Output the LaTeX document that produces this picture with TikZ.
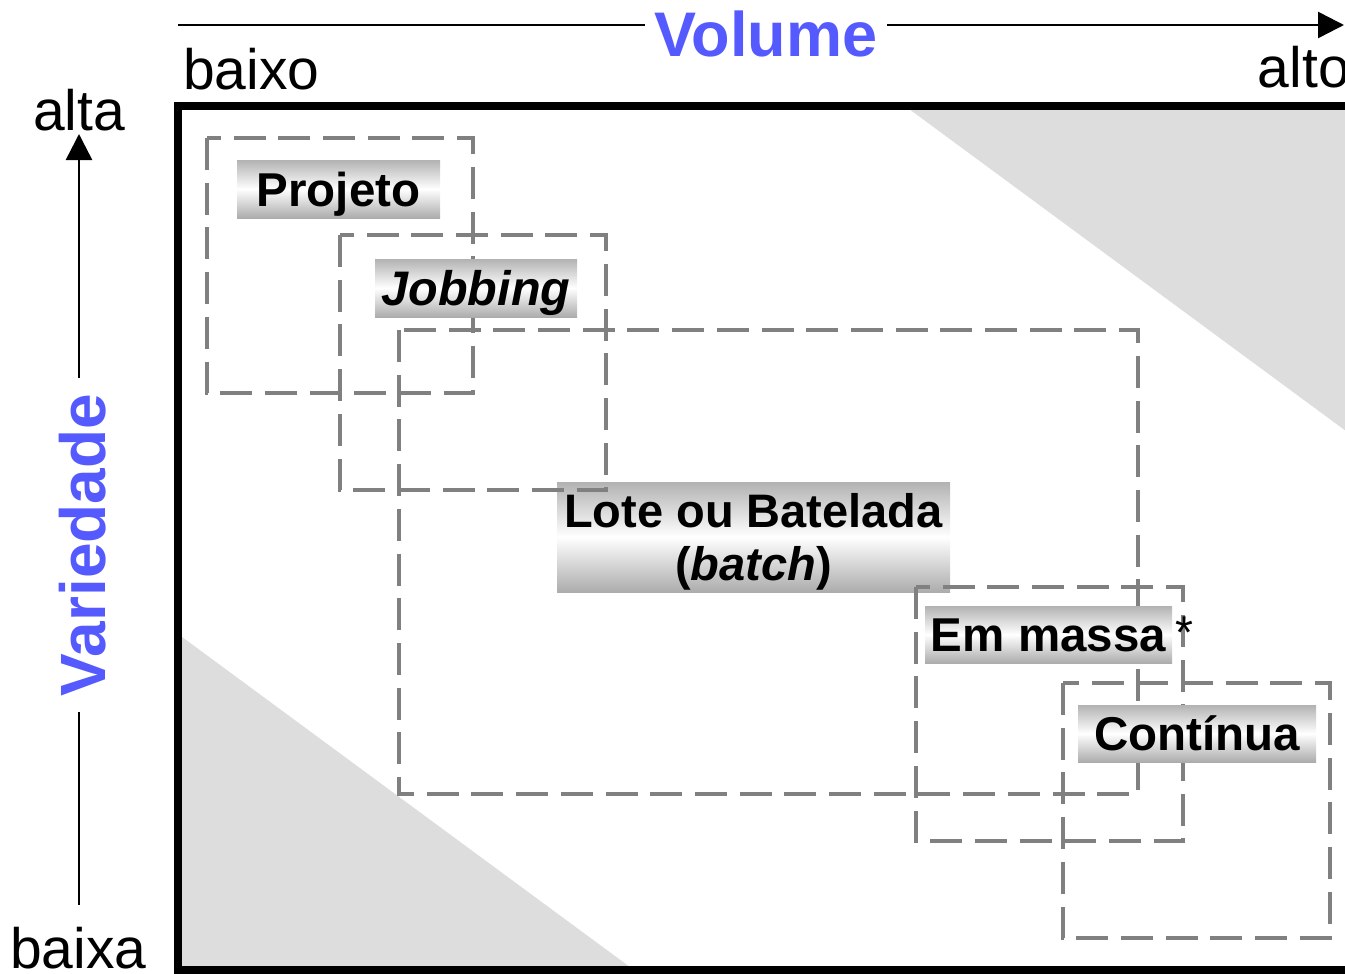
\documentclass[tikz,border=0pt]{standalone}
\usepackage{fontspec}
\setmainfont{Liberation Sans}
\usetikzlibrary{arrows.meta}
\definecolor{volblue}{RGB}{85,90,255}
\definecolor{dashgray}{RGB}{128,128,128}
\definecolor{zonegray}{RGB}{221,221,221}
\definecolor{shtop}{RGB}{178,178,178}
\definecolor{shbot}{RGB}{172,172,172}
\tikzset{
 axisline/.style={line width=2.5pt, -{Triangle[length=26pt,width=26pt]}},
 zone/.style={draw=dashgray, line width=3.3pt, dash pattern=on 32pt off 12.7pt},
 lbl/.style={inner sep=0pt, top color=shtop, bottom color=shbot, middle color=white, font=\fontsize{47.5}{54}\selectfont\bfseries, text height=34pt, text depth=0pt},
 lbltext/.style={inner sep=0pt, font=\fontsize{47}{54}\selectfont\bfseries},
 plaintxt/.style={font=\fontsize{57}{60}\selectfont, inner sep=0pt},
 axtitle/.style={font=\fontsize{63}{64}\selectfont\bfseries, text=volblue, fill=white, inner ysep=2pt}
}
\begin{document}
\begin{tikzpicture}[x=1pt,y=-1pt]
\useasboundingbox (0,0) rectangle (1345,974);
% grey corner zones
\fill[zonegray] (905,106) -- (1350,106) -- (1350,434) -- cycle;
\fill[zonegray] (178,634) -- (178,970) -- (634,970) -- cycle;
% frame
\draw[line width=8pt, line join=miter] (178,106) rectangle (1360,970);
% axes
\coordinate (hstart) at (178,25);
\coordinate (hend) at (1344,25);
\coordinate (vstart) at (79,905);
\coordinate (vend) at (79,134);
\draw[axisline] (hstart) -- (hend);
\draw[axisline] (vstart) -- (vend);
\node[axtitle, anchor=base, inner xsep=10pt] (vol) at (766,57) {Volume};
\node[axtitle, anchor=base, font=\fontsize{64}{64}\selectfont\bfseries, rotate=90, inner xsep=16pt] (var) at (105,545) {Variedade};
\node[plaintxt, anchor=base west] (baixo) at (183,89) {baixo};
\node[plaintxt, anchor=base east] (alto) at (1350,88) {alto};
\node[plaintxt, anchor=base] (alta) at (79,131) {alta};
\node[plaintxt, anchor=base west] (baixa) at (10,968) {baixa};
% dashed zones
\draw[zone] (207,138) rectangle (473,393);
\draw[zone] (399,330) rectangle (1138,794);
\node[lbl, minimum width=393pt, minimum height=110pt, text height=0pt] (lotebox) at (753.5,537) {};
\node[lbltext, anchor=base] (lote1) at (753.5,527) {Lote ou Batelada};
\node[lbltext, anchor=base] (lote2) at (753.5,580) {(\textit{batch})};
\draw[zone] (340,235) rectangle (606,490);
\draw[zone] (916,587) rectangle (1183,841);
\draw[zone] (1063,683) rectangle (1330,938);
% labels
\node[lbl, minimum width=203pt, minimum height=58pt] (proj) at (338.5,189) {Projeto};
\node[lbl, minimum width=202pt, minimum height=58pt, font=\fontsize{48.5}{54}\selectfont\bfseries] (job) at (476,288) {\textit{Jobbing}};
\node[lbl, minimum width=247pt, minimum height=57pt] (massa) at (1048.5,634.5) {Em massa};
\node[lbl, minimum width=238pt, minimum height=57pt] (cont) at (1197,733.5) {Contínua};
\node[font=\fontsize{46}{46}\selectfont, inner sep=0pt, anchor=base west] (ast) at (1175,648) {*};
\end{tikzpicture}
\end{document}
